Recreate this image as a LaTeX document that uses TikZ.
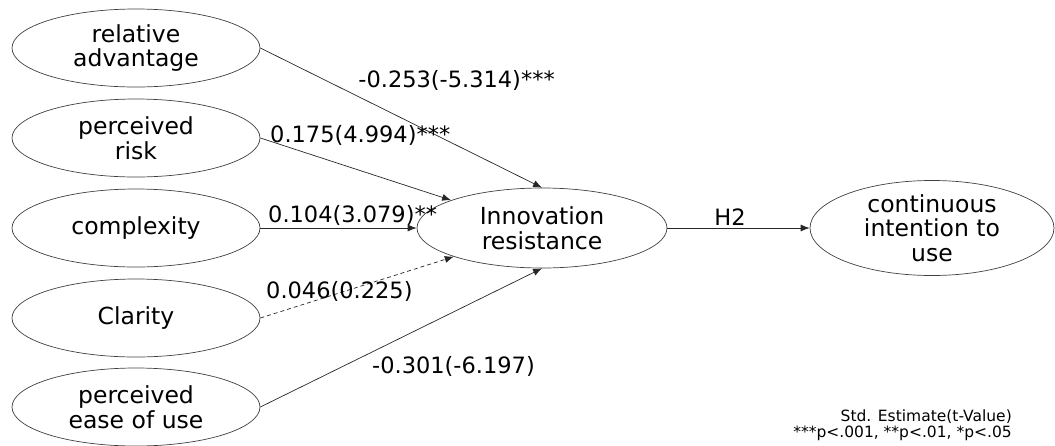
\documentclass[tikz,border=0pt]{standalone}
\usepackage{fontspec}
\setmainfont{DejaVu Sans}
\usetikzlibrary{shapes.geometric,arrows.meta}
\begin{document}
\begin{tikzpicture}[x=1pt,y=-1pt,
  construct/.style={draw=black!75,line width=0.7pt,ellipse,minimum width=248pt,minimum height=78pt,inner sep=0pt,align=center,font=\fontsize{23.5}{24.5}\selectfont},
  path/.style={draw=black!85,line width=0.7pt,-{Latex[length=9pt,width=7pt]}},
  nsig/.style={path,dashed,dash pattern=on 4pt off 3pt},
  coef/.style={anchor=base west,inner sep=0pt,font=\fontsize{22.5}{24}\selectfont},
  legend/.style={anchor=base east,inner sep=0pt,font=\fontsize{15.5}{16}\selectfont}]
\useasboundingbox (0,0) rectangle (1055,445);
\node[construct] (ra) at (136,48) {relative\\advantage};
\node[construct] (pr) at (136,138) {perceived\\risk};
\node[construct] (cx) at (136,228) {complexity};
\node[construct] (cl) at (136,318) {Clarity};
\node[construct] (eu) at (136,407) {perceived\\ease of use};
\node[construct,minimum width=250pt,minimum height=80pt] (ir) at (542,228) {Innovation\\resistance};
\node[construct,minimum width=244pt,minimum height=77pt] (ci) at (932,228) {continuous\\intention to\\use};
\draw[path] (ra.east) -- (ir.north);
\draw[path] (pr.east) -- (ir.163);
\draw[path] (cx.east) -- (ir.west);
\draw[nsig] (cl.east) -- (ir.198);
\draw[path] (eu.east) -- (ir.south);
\draw[path] (ir.east) -- (ci.west);
\node[coef,anchor=base east] (l1) at (555,87) {-0.253(-5.314)***};
\node[coef] (l2) at (270,142) {0.175(4.994)***};
\node[coef] (l3) at (268,222) {0.104(3.079)**};
\node[coef] (l4) at (266,298) {0.046(0.225)};
\node[coef] (l5) at (372,373) {-0.301(-6.197)};
\node[coef,anchor=base] (h2) at (730,225) {H2};
\node[legend] (g1) at (1012,421) {Std. Estimate(t-Value)};
\node[legend] (g2) at (1012,437) {***p<.001, **p<.01, *p<.05};
\end{tikzpicture}
\end{document}
